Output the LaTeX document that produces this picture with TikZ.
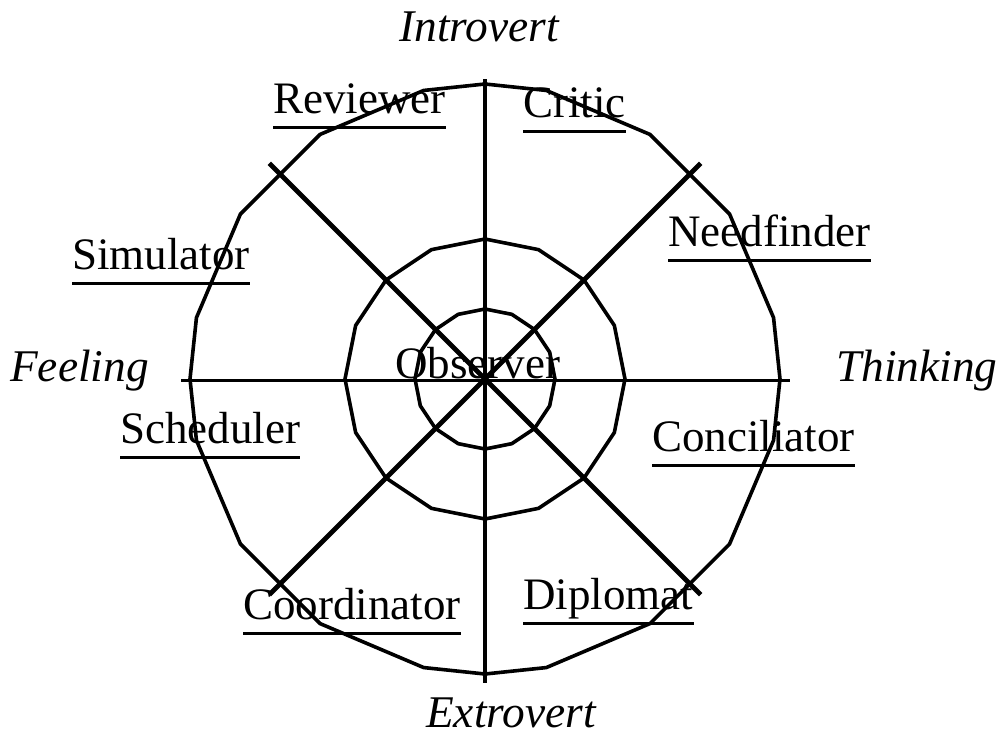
\documentclass[tikz,border=0pt]{standalone}
\usepackage{fontspec}
\setmainfont{Liberation Serif}
\usetikzlibrary{calc}

\begin{document}
\begin{tikzpicture}[x=0.75pt, y=-0.75pt,
  ring/.style={line width=2.7pt, line join=miter},
  axis/.style={line width=2.5pt},
  spoke/.style={line width=3.5pt},
  role/.style={inner sep=0pt, anchor=base west, font=\fontsize{33.75}{40}\selectfont},
  pole/.style={inner sep=0pt, font=\fontsize{34}{40}\selectfont\itshape},
  uline/.style={line width=2.7pt}]

% Canvas
\useasboundingbox (0,0) rectangle (1003,736);

% Wheel
\begin{scope}[shift={(485,379)}]
  \coordinate (c) at (0,0);
  % outer ring
  \draw[ring] (0:295) \foreach \a in {12,34,56,78,90,102,124,146,168,180,192,214,236,258,270,282,304,326,348} { -- (\a:295) } -- cycle;
  % middle ring
  \draw[ring] (0:140) \foreach \a in {22.5,45,...,337.5} { -- (\a:140) } -- cycle;
  % inner ring
  \draw[ring] (0:70) \foreach \a in {22.5,45,...,337.5} { -- (\a:70) } -- cycle;
  % axes
  \coordinate (n) at (0,-300);
  \coordinate (s) at (0,304);
  \coordinate (w) at (-304,1.5);
  \coordinate (e) at (305,1.5);
  \draw[axis] (n) -- (s);
  \draw[axis] (w) -- (e);
  % spokes
  \foreach \a in {45,135,225,315}
    \draw[spoke] (c) -- (\a:305);
\end{scope}

% Poles
\node[pole, anchor=base] (intro) at (479,41) {Introvert};
\node[pole, anchor=base] (extro) at (511,727) {Extrovert};
\node[pole, anchor=base west] (feel) at (10,381) {Feeling};
\node[pole, anchor=base west] (think) at (836,381) {Thinking};

% Centre label
\node[role] (obs) at (395,378) {Observer};

% Roles, underlined
\foreach \nm/\x/\y/\txt in {rev/273/113/Reviewer, cri/523/117/Critic,
    nee/668/246/Needfinder, sim/72/269/Simulator, sch/120/443/Scheduler,
    con/652/451/Conciliator, coo/243/619/Coordinator, dip/523/609/Diplomat} {
  \node[role] (\nm) at (\x,\y) {\txt};
  \draw[uline] ([yshift=-11]\nm.base west) -- ([yshift=-11]\nm.base east);
}

\end{tikzpicture}
\end{document}
